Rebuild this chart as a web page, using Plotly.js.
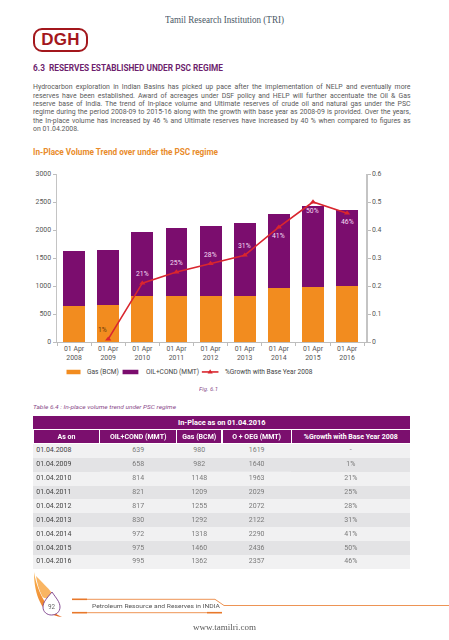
<!DOCTYPE html>
<html>
<head>
<meta charset="utf-8">
<script src="https://cdn.plot.ly/plotly-3.0.1.min.js"></script>
<style>
  html, body { margin:0; padding:0; background:#fff; }
  #page { position:relative; width:449px; height:640px; overflow:hidden; background:#fff; font-family:Roboto, "Noto Sans", sans-serif; }
  .t { position:absolute; white-space:nowrap; line-height:10px; height:10px; }
  .t span { display:inline-block; white-space:nowrap; transform-origin:0 50%; }
  #chart { position:absolute; left:0; top:160px; width:449px; height:225px; }
  #tblwrap { position:absolute; left:33.3px; top:429.3px; width:377px; height:141px; overflow:hidden; }
  #tbl { position:absolute; left:0; top:0; width:942.5px; height:352px; transform-origin:0 0; }
  #merged { position:absolute; left:33.3px; top:416px; width:377px; height:13px; background:#7b0f6e; color:#fff; font-weight:bold; font-size:7.4px; line-height:13px; text-align:center; }
  #logo { position:absolute; left:33px; top:27.5px; width:55px; height:24px; box-sizing:border-box; border:2.6px solid #a3171c; border-radius:9px; color:#a3171c; font-family:"Liberation Sans", Arial, sans-serif; font-weight:bold; font-size:17px; line-height:19px; text-align:center; letter-spacing:0.3px; }
</style>
</head>
<body>
<div id="page">
  <div class="t" id="hdr" style="left:165px; top:15px; font-family:'Liberation Serif',serif; font-size:9.6px; color:#4a5866;"><span data-w="119">Tamil Research Institution (TRI)</span></div>
  <div id="logo">DGH</div>
  <div class="t" style="left:33px; top:63.3px; font-size:8.3px; font-weight:bold; color:#6e1f6e;"><span data-w="190">6.3&nbsp;&nbsp;RESERVES ESTABLISHED UNDER PSC REGIME</span></div>
  <div id="para"></div>
  <div class="t" style="left:33px; top:147.3px; font-size:8.2px; font-weight:bold; color:#e98c2b;"><span data-w="185">In-Place Volume Trend over under the PSC regime</span></div>
  <div id="chart"></div>
  <div class="t" style="left:199px; top:384px; font-size:6px; font-style:italic; color:#8a4a8a;"><span data-w="19">Fig. 6.1</span></div>
  <div class="t" style="left:33px; top:402.3px; font-size:6px; font-style:italic; color:#8a4a8a;"><span data-w="143">Table 6.4 : In-place volume trend under PSC regime</span></div>
  <div id="merged">In-Place as on 01.04.2016</div>
  <div id="tblwrap"><div id="tbl"></div></div>
  <svg id="foot" style="position:absolute; left:0; top:560px;" width="449" height="80" viewBox="0 560 449 80">
    <defs>
      <linearGradient id="fl" x1="0" y1="0" x2="1" y2="1">
        <stop offset="0" stop-color="#f9b04a"/>
        <stop offset="1" stop-color="#e4621c"/>
      </linearGradient>
    </defs>
    <path d="M34,572 C36,584 40,594 45,602 C49,609 55,614 62,617 C52,616 44,611 40,602 C36,594 34,584 34,572 Z" fill="url(#fl)"/>
    <path d="M36,576 C42,582 48,588 52,593 C50,598 44,600 42,596 C39,590 37,583 36,576 Z" fill="#f7a23c" opacity="0.8"/>
    <path d="M52,592 C56,598 60,602 60,607 C60,612 56,615 51.5,615 C47,615 43,612 43,607 C43,602 47,598 52,592 Z" fill="#fff" stroke="#7a3d8a" stroke-width="0.9"/>
    <text x="51.5" y="609" font-family="Roboto" font-size="6.3" fill="#666" text-anchor="middle">92</text>
    <line x1="72" y1="599.3" x2="87" y2="599.3" stroke="#e8782a" stroke-width="1.6"/>
    <polyline points="87,599.3 215,599.3 224,605.5 449,605.5" fill="none" stroke="#e8782a" stroke-width="0.8"/>
    <line x1="72" y1="612.7" x2="87" y2="612.7" stroke="#e8782a" stroke-width="1.6"/>
    <line x1="87" y1="612.7" x2="207" y2="612.7" stroke="#e8782a" stroke-width="0.8"/>
    <line x1="207" y1="612.7" x2="222" y2="612.7" stroke="#e8782a" stroke-width="1.6"/>
  </svg>
  <div class="t" style="left:91.7px; top:600.5px; font-size:6.2px; color:#555;"><span data-w="128">Petroleum Resource and Reserves in INDIA</span></div>
  <div class="t" style="left:193px; top:621.5px; font-family:'Liberation Serif',serif; font-size:8.6px; color:#5a5a5a;"><span data-w="63">www.tamilri.com</span></div>
</div>
<script>
// ---------- DATA ----------
const years = ['2008','2009','2010','2011','2012','2013','2014','2015','2016'];
const asOn = ['01.04.2008','01.04.2009','01.04.2010','01.04.2011','01.04.2012','01.04.2013','01.04.2014','01.04.2015','01.04.2016'];
const oilCond = [639, 658, 814, 821, 817, 830, 972, 975, 995];
const gas = [980, 982, 1148, 1209, 1255, 1292, 1318, 1460, 1362];
const total = [1619, 1640, 1963, 2029, 2072, 2122, 2290, 2436, 2357];
const growthPct = [null, 1, 21, 25, 28, 31, 41, 50, 46];
const seriesNames = ['Gas (BCM)', 'OIL+COND (MMT)', '%Growth with Base Year 2008'];
const tableHeader = ['As on', 'OIL+COND (MMT)', 'Gas (BCM)', 'O + OEG (MMT)', '%Growth with Base Year 2008'];
const paraLines = [
  'Hydrocarbon exploration in Indian Basins has picked up pace after the implementation of NELP and eventually more',
  'reserves have been established. Award of acreages under DSF policy and HELP will further accentuate the Oil & Gas',
  'reserve base of India. The trend of In-place volume and Ultimate reserves of crude oil and natural gas under the PSC',
  'regime during the period 2008-09 to 2015-16 along with the growth with base year as 2008-09 is provided. Over the years,',
  'the In-place volume has increased by 46 % and Ultimate reserves have increased by 40 % when compared to figures as',
  'on 01.04.2008.'
];

// ---------- paragraph ----------
const para = document.getElementById('para');
paraLines.forEach((ln, i) => {
  const d = document.createElement('div');
  d.className = 't';
  d.style.left = '33px';
  d.style.top = (87.3 + i * 8.35 - 5) + 'px';
  d.style.fontSize = '6.9px';
  d.style.color = '#5a5a5a';
  const s = document.createElement('span');
  s.textContent = ln;
  if (i < paraLines.length - 1) s.dataset.just = '377.5';
  d.appendChild(s);
  para.appendChild(d);
});

function fitAll() {
  document.querySelectorAll('span[data-w]').forEach(s => {
    s.style.transform = '';
    const w = s.getBoundingClientRect().width;
    const tw = parseFloat(s.dataset.w);
    s.style.transform = 'scaleX(' + (tw / w) + ')';
  });
  document.querySelectorAll('span[data-just]').forEach(s => {
    const w = s.getBoundingClientRect().width;
    const tw = parseFloat(s.dataset.just);
    const n = (s.textContent.match(/ /g) || []).length;
    if (w < tw) s.style.wordSpacing = ((tw - w) / n) + 'px';
    else s.style.transform = 'scaleX(' + (tw / w) + ')';
  });
}

// ---------- chart ----------
const xcats = years.map(y => '01 Apr<br>' + y);
const orange = '#f28c1f', purple = '#7b0d6e', red = '#d9262e';
const W = 449, H = 225, M = { l: 57, r: 83.3, t: 13.7, b: 43 };
const pw = W - M.l - M.r, ph = H - M.t - M.b;
const PX = px => (px - M.l) / pw;              // page-x (chart div) -> paper x
const PY = py => (ph + M.t - (py - 160)) / ph;   // page-y -> paper y

const lineX = [], lineY = [];
growthPct.forEach((g, i) => { if (g !== null) { lineX.push(xcats[i]); lineY.push(g / 100); } });

const font = { family: 'Roboto, sans-serif', size: 6.9, color: '#555' };
const data = [
  { type: 'bar', name: seriesNames[0], x: xcats, y: oilCond, marker: { color: orange }, hoverinfo: 'none', showlegend: false },
  { type: 'bar', name: seriesNames[1], x: xcats, y: gas, marker: { color: purple }, hoverinfo: 'none', showlegend: false },
  { type: 'scatter', mode: 'lines+markers', name: seriesNames[2], x: lineX, y: lineY, yaxis: 'y2',
    line: { color: red, width: 1.6 }, marker: { symbol: 'triangle-up', size: 5.5, color: red }, hoverinfo: 'none', showlegend: false }
];

// point labels from the growth data
const annotations = [];
growthPct.forEach((g, i) => {
  if (g === null) return;
  const low = g < 5, high = g >= 40;
  annotations.push({
    x: xcats[i], y: g / 100, xref: 'x', yref: 'y2', text: g + '%', showarrow: false,
    xshift: low ? -6 : 0, yshift: high ? -9 : 9,
    font: { family: 'Roboto, sans-serif', size: 6.8, color: low ? '#6b3a0a' : '#f6dcf2' }
  });
});

// legend (drawn as layout items)
const legY = PY(372);
const shapes = [
  { type: 'rect', xref: 'paper', yref: 'paper', x0: PX(66.5), x1: PX(80.5), y0: PY(374.3), y1: PY(369.8), fillcolor: orange, line: { width: 0 } },
  { type: 'rect', xref: 'paper', yref: 'paper', x0: PX(122.5), x1: PX(138.3), y0: PY(374.3), y1: PY(369.8), fillcolor: purple, line: { width: 0 } },
  { type: 'line', xref: 'paper', yref: 'paper', x0: PX(201.7), x1: PX(218.3), y0: legY, y1: legY, line: { color: red, width: 1.6 } },
  { type: 'path', xref: 'paper', yref: 'paper',
    path: 'M' + PX(210) + ',' + PY(369.3) + ' L' + PX(212.6) + ',' + PY(373.6) + ' L' + PX(207.4) + ',' + PY(373.6) + ' Z',
    fillcolor: red, line: { width: 0 } }
];
const legFont = { family: 'Roboto, sans-serif', size: 6.6, color: '#444' };
[[85, 0], [144, 1], [223, 2]].forEach(([px, k]) => {
  annotations.push({ xref: 'paper', yref: 'paper', x: PX(px), y: legY, xanchor: 'left', yanchor: 'middle', text: seriesNames[k], showarrow: false, font: legFont });
});

const layout = {
  width: W, height: H,
  margin: M,
  barmode: 'stack', bargap: 0.36,
  paper_bgcolor: 'rgba(0,0,0,0)', plot_bgcolor: 'rgba(0,0,0,0)',
  font: font,
  showlegend: false,
  annotations: annotations,
  shapes: shapes,
  xaxis: { type: 'category', showline: true, linecolor: '#bdbdbd', linewidth: 1.2, ticks: 'outside', tickson: 'boundaries', ticklen: 3, tickcolor: '#bdbdbd', tickfont: font, showgrid: false, zeroline: false },
  yaxis: { range: [0, 3000], dtick: 500, showline: true, linecolor: '#c4c4c4', linewidth: 1.5, ticks: 'outside', ticklen: 3, tickcolor: '#bdbdbd', tickfont: font, showgrid: false, zeroline: false },
  yaxis2: { overlaying: 'y', side: 'right', range: [0, 0.6], dtick: 0.1, showline: true, linecolor: '#c4c4c4', linewidth: 1.5, ticks: 'outside', ticklen: 3, tickcolor: '#bdbdbd', tickfont: font, showgrid: false, zeroline: false }
};
Plotly.newPlot('chart', data, layout, { staticPlot: true, displayModeBar: false });

// ---------- table (drawn at 2.5x, scaled down by CSS after drawing) ----------
const S = 2.5;
const growthText = growthPct.map(g => g === null ? '-' : g + '%');
const rowFill = asOn.map((_, i) => i % 2 === 0 ? '#f1f1f2' : '#e3e3e5');
const tdata = [{
  type: 'table',
  columnwidth: [66.7, 76.7, 45.3, 69.3, 118.7],
  header: {
    values: tableHeader.map(h => '<b>' + h + '</b>'),
    align: 'center', height: 14 * S,
    fill: { color: '#7b0f6e' }, line: { color: '#ffffff', width: 1.2 * S },
    font: { family: 'Roboto, sans-serif', size: 7.0 * S, color: '#ffffff' }
  },
  cells: {
    values: [asOn, oilCond, gas, total, growthText],
    align: ['left', 'center', 'center', 'center', 'center'], height: 13.9 * S,
    fill: { color: [rowFill, rowFill, rowFill, rowFill, rowFill] },
    line: { color: 'rgba(0,0,0,0)', width: 0 },
    font: { family: 'Roboto, sans-serif', size: 7.0 * S, color: ['#444', '#7a7a7a', '#7a7a7a', '#7a7a7a', '#7a7a7a'] }
  }
}];

function drawTable() {
  return Plotly.newPlot('tbl', tdata, { width: 377 * S, height: 141 * S, margin: { l: 0, r: 0, t: 0, b: 0 }, paper_bgcolor: 'rgba(0,0,0,0)' }, { staticPlot: true, displayModeBar: false })
    .then(() => { document.getElementById('tbl').style.transform = 'scale(' + (1 / S) + ')'; });
}

const ready = (document.fonts && document.fonts.ready) ? document.fonts.ready : Promise.resolve();
ready.then(() => { fitAll(); drawTable(); });
</script>
</body>
</html>
